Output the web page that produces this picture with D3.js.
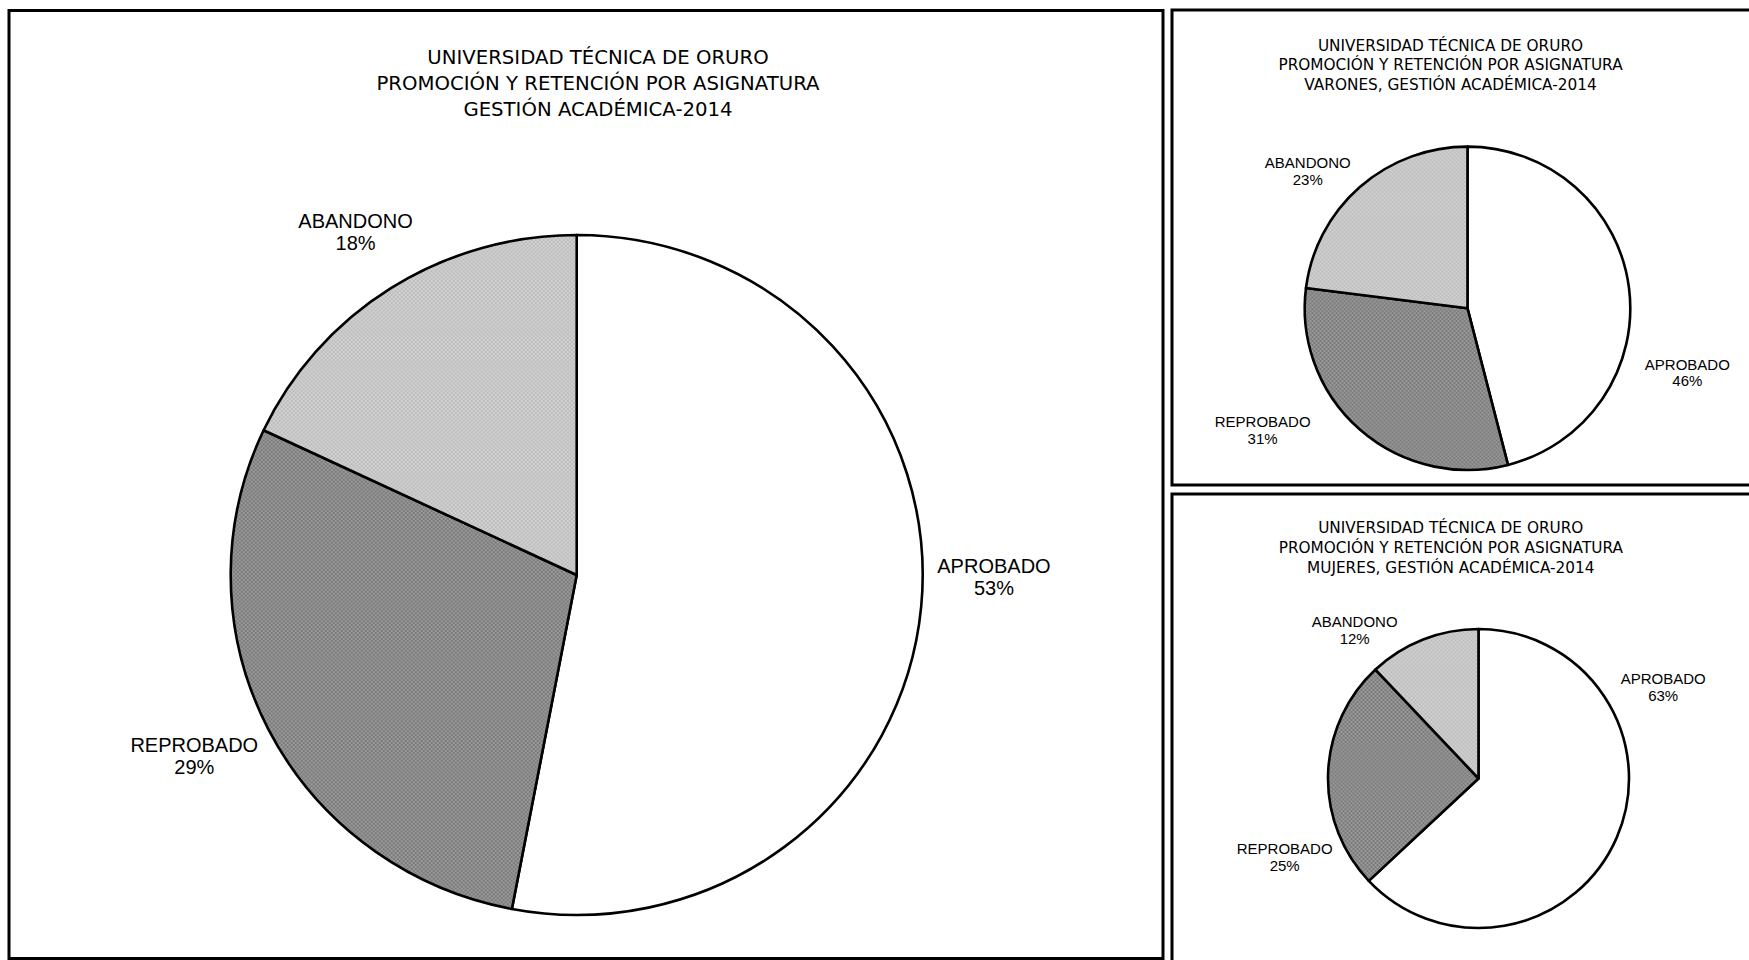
<!DOCTYPE html>
<html>
<head>
<meta charset="utf-8">
<script src="https://cdn.jsdelivr.net/npm/d3@7"></script>
<style>
  html, body { margin: 0; padding: 0; background: #fff; }
  svg { display: block; }
</style>
</head>
<body>
<svg id="chart" width="1749" height="960"></svg>
<script>
// ---- DATA ----
const categories = ["APROBADO", "REPROBADO", "ABANDONO"];
const totalValues = [53, 29, 18];
const varonesValues = [46, 31, 23];
const mujeresValues = [63, 25, 12];
const totalTitle = ["UNIVERSIDAD TÉCNICA DE ORURO", "PROMOCIÓN Y RETENCIÓN POR ASIGNATURA", "GESTIÓN ACADÉMICA-2014"];
const varonesTitle = ["UNIVERSIDAD TÉCNICA DE ORURO", "PROMOCIÓN Y RETENCIÓN POR ASIGNATURA", "VARONES, GESTIÓN ACADÉMICA-2014"];
const mujeresTitle = ["UNIVERSIDAD TÉCNICA DE ORURO", "PROMOCIÓN Y RETENCIÓN POR ASIGNATURA", "MUJERES, GESTIÓN ACADÉMICA-2014"];

// ---- LAYOUT / STYLE ----
const svg = d3.select("#chart");
const defs = svg.append("defs");

function checker(id, base, dot) {
  const p = defs.append("pattern").attr("id", id).attr("patternUnits", "userSpaceOnUse")
    .attr("width", 4).attr("height", 4);
  p.append("rect").attr("width", 4).attr("height", 4).attr("fill", base);
  p.append("rect").attr("x", 0).attr("y", 0).attr("width", 2).attr("height", 2).attr("fill", dot);
  p.append("rect").attr("x", 2).attr("y", 2).attr("width", 2).attr("height", 2).attr("fill", dot);
}
checker("patDark", "#9a9a9a", "#7a7a7a");
checker("patLight", "#d2d2d2", "#bcbcbc");

const fillScale = d3.scaleOrdinal().domain(categories)
  .range(["#ffffff", "url(#patDark)", "url(#patLight)"]);

// panel frames
const panels = [
  {x: 9, y: 10.5, w: 1154, h: 948},
  {x: 1172, y: 10, w: 590, h: 475},
  {x: 1172, y: 494, w: 590, h: 480}
];
svg.selectAll("rect.panel").data(panels).enter().append("rect")
  .attr("class", "panel")
  .attr("x", d => d.x).attr("y", d => d.y).attr("width", d => d.w).attr("height", d => d.h)
  .attr("fill", "none").attr("stroke", "#000").attr("stroke-width", 3);

const charts = [
  {
    values: totalValues, title: totalTitle,
    cx: 576.7, cy: 575, rx: 346, ry: 340,
    titleX: 598, titleY: [63.5, 90, 116], titleSize: 19.7,
    labelSize: 20, labelGap: 22, capH: 14.3,
    place: [[-5.1, 1.206], [1.65, 1.223], [-0.4, 1.18]]
  },
  {
    values: varonesValues, title: varonesTitle,
    cx: 1467.5, cy: 308.3, rx: 162.8, ry: 161.7,
    titleX: 1450.5, titleY: [50.5, 70, 89.5], titleSize: 15.3,
    labelSize: 15, labelGap: 16.7, capH: 10.7,
    place: [[23.5, 1.407], [17.8, 1.465], [-7.9, 1.294]]
  },
  {
    values: mujeresValues, title: mujeresTitle,
    cx: 1478.5, cy: 778.5, rx: 150.5, ry: 149.5,
    titleX: 1450.8, titleY: [533, 553, 573], titleSize: 15.3,
    labelSize: 15, labelGap: 16.7, capH: 10.7,
    place: [[-49.8, 1.37], [-23.9, 1.39], [-18.3, 1.283]]
  }
];

const pie = d3.pie().sort(null).value(d => d.value);

charts.forEach(c => {
  const data = categories.map((k, i) => ({key: k, value: c.values[i]}));
  const total = d3.sum(data, d => d.value);
  const arcs = pie(data);
  const arc = d3.arc().innerRadius(0).outerRadius(c.rx);

  // title
  svg.append("g").selectAll("text").data(c.title).enter().append("text")
    .attr("x", c.titleX).attr("y", (d, i) => c.titleY[i])
    .attr("text-anchor", "middle")
    .attr("font-family", "DejaVu Sans, sans-serif")
    .attr("font-size", c.titleSize)
    .attr("fill", "#000")
    .text(d => d);

  // slices
  const g = svg.append("g")
    .attr("transform", `translate(${c.cx},${c.cy}) scale(1,${c.ry / c.rx})`);
  g.selectAll("path").data(arcs).enter().append("path")
    .attr("d", arc)
    .attr("fill", d => fillScale(d.data.key))
    .attr("stroke", "#000")
    .attr("stroke-width", 2.6)
    .attr("stroke-linejoin", "round")
    .attr("vector-effect", "non-scaling-stroke");

  // labels
  const lg = svg.append("g");
  arcs.forEach((a, i) => {
    const mid = (a.startAngle + a.endAngle) / 2 + c.place[i][0] * Math.PI / 180;
    const k = c.place[i][1];
    const x = c.cx + k * c.rx * Math.sin(mid);
    const yc = c.cy - k * c.rx * Math.cos(mid);
    const blockH = c.capH + c.labelGap;
    const y1 = yc - blockH / 2 + c.capH;
    const t = lg.append("text")
      .attr("text-anchor", "middle")
      .attr("font-family", "Liberation Sans, Arial, sans-serif")
      .attr("font-size", c.labelSize)
      .attr("fill", "#000");
    t.append("tspan").attr("x", x).attr("y", y1).text(a.data.key);
    t.append("tspan").attr("x", x).attr("y", y1 + c.labelGap)
      .text(Math.round(a.data.value / total * 100) + "%");
  });
});
</script>
</body>
</html>
